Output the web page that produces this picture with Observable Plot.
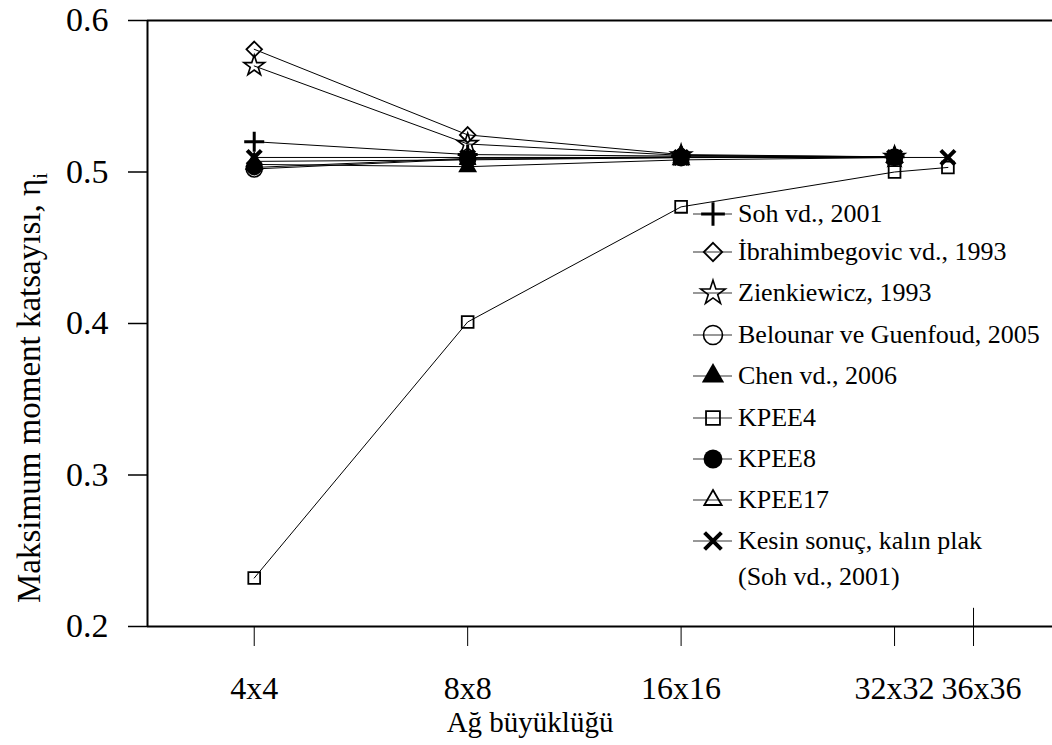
<!DOCTYPE html>
<html>
<head>
<meta charset="utf-8">
<script src="https://cdn.jsdelivr.net/npm/d3@7"></script>
<script src="https://cdn.jsdelivr.net/npm/@observablehq/plot@0.6"></script>
<style>
  body { margin: 0; background: #fff; }
  #chart svg text { font-family: "Liberation Serif", "Times New Roman", serif !important; }
</style>
</head>
<body>
<div id="chart"></div>
<script>
// Mesh sizes along the x axis
const meshLabels = ["4x4", "8x8", "16x16", "32x32", "36x36"];
const meshPos = [1, 2, 3, 4, 4.25];     // positions of the results for each mesh
const meshTickPos = [1, 2, 3, 4, 4.37]; // positions of the axis ticks
const yTicks = [0.2, 0.3, 0.4, 0.5, 0.6];

// Maximum moment coefficient for each method
const soh2001      = [0.520, 0.5115, 0.5105, 0.5100];
const ibrahim1993  = [0.581, 0.5245, 0.5115, 0.5100];
const zienk1993    = [0.570, 0.5185, 0.5110, 0.5100];
const belounar2005 = [0.502, 0.5085, 0.5095, 0.5098];
const chen2006     = [0.505, 0.5035, 0.5080, 0.5095];
const kpee4        = [0.232, 0.401, 0.477, 0.500, 0.503];
const kpee8        = [0.503, 0.5090, 0.5100, 0.5100];
const kpee17       = [0.507, 0.5080, 0.5095, 0.5098];
const exactThick   = [0.5096, 0.5096, 0.5096, 0.5096, 0.5096];

const seriesNames = [
  "Soh vd., 2001",
  "İbrahimbegovic vd., 1993",
  "Zienkiewicz, 1993",
  "Belounar ve Guenfoud, 2005",
  "Chen vd., 2006",
  "KPEE4",
  "KPEE8",
  "KPEE17",
  "Kesin sonuç, kalın plak"
];
const seriesValues = [soh2001, ibrahim1993, zienk1993, belounar2005, chen2006, kpee4, kpee8, kpee17, exactThick];

// Marker style of each series
const styles = [
  {symbol: "plus",     r: 6.5, fill: "none",  stroke: "black", sw: 3},
  {symbol: "diamond2", r: 7,   fill: "none",  stroke: "black", sw: 1.8},
  {symbol: "star",     r: 6.5, fill: "none",  stroke: "black", sw: 1.6},
  {symbol: "circle",   r: 8,   fill: "none",  stroke: "black", sw: 1.6},
  {symbol: "triangle", r: 7,   fill: "black", stroke: "none",  sw: 0},
  {symbol: "square2",  r: 7.5, fill: "none",  stroke: "black", sw: 1.8},
  {symbol: "circle",   r: 8,   fill: "black", stroke: "none",  sw: 0},
  {symbol: "triangle2",r: 7,   fill: "none",  stroke: "black", sw: 1.8},
  {symbol: "times",    r: 6.5, fill: "none",  stroke: "black", sw: 4}
];

const rows = seriesValues.map((vals, s) =>
  vals.map((v, i) => ({series: seriesNames[s], s, x: meshPos[i], y: v}))
);

const tickLabel = new Map(meshTickPos.map((p, i) => [p, meshLabels[i]]));
const lastTick = meshTickPos[meshTickPos.length - 1];

const marks = [
  Plot.ruleY([0.6], {stroke: "black", strokeWidth: 2}),
  Plot.ruleY([0.2], {stroke: "black", strokeWidth: 2}),
  Plot.ruleX([0.5], {stroke: "black", strokeWidth: 2}),
  Plot.axisY({ticks: yTicks, tickFormat: d => d.toFixed(1), tickSize: 19, tickPadding: 20,
              fontSize: 34, label: null, strokeWidth: 1.5}),
  // ticks for every mesh; the last label is drawn separately
  Plot.axisX({ticks: meshTickPos, tickFormat: d => d === lastTick ? "" : tickLabel.get(d),
              tickSize: 20, tickPadding: 30, fontSize: 32, label: null, strokeWidth: 1}),
  // the 36x36 label sits a little right of its tick so that it clears 32x32
  Plot.axisX({ticks: [lastTick], tickFormat: d => tickLabel.get(d), tickSize: 0, tickPadding: 50,
              fontSize: 32, label: null, dx: 8}),
  // the 36x36 tick also rises above the axis line
  Plot.ruleX([lastTick], {y1: 0.2, y2: 0.212, stroke: "black", strokeWidth: 1})
];

rows.forEach(r => marks.push(Plot.line(r, {x: "x", y: "y", stroke: "black", strokeWidth: 1})));
rows.forEach((r, s) => {
  const st = styles[s];
  marks.push(Plot.dot(r, {x: "x", y: "y", symbol: () => st.symbol, r: st.r,
                          fill: st.fill, stroke: st.stroke, strokeWidth: st.sw}));
});

const chart = Plot.plot({
  width: 1052,
  height: 745,
  marginLeft: 147,
  marginRight: 0,
  marginTop: 20,
  marginBottom: 119,
  style: "font-family: 'Liberation Serif', serif; color: black; background: white; overflow: visible;",
  x: {domain: [0.5, 4.74]},
  y: {domain: [0.2, 0.6]},
  symbol: {type: "identity"},
  marks
});

document.getElementById("chart").appendChild(chart);

const svg = d3.select(chart);

// Axis titles
svg.append("text")
  .attr("x", 530).attr("y", 732)
  .attr("text-anchor", "middle")
  .attr("font-size", 29)
  .attr("fill", "black")
  .text("Ağ büyüklüğü");

const yTitle = svg.append("text")
  .attr("transform", "translate(40,388) rotate(-90)")
  .attr("text-anchor", "middle")
  .attr("font-size", 33)
  .attr("fill", "black");
yTitle.append("tspan").text("Maksimum moment katsayısı, η");
yTitle.append("tspan").attr("font-size", 21).attr("dy", 7).text("i");

// Legend
const symbolTypes = {
  plus: d3.symbolPlus, diamond2: d3.symbolDiamond2, star: d3.symbolStar,
  circle: d3.symbolCircle, triangle: d3.symbolTriangle, square2: d3.symbolSquare2,
  triangle2: d3.symbolTriangle2, times: d3.symbolTimes
};
const legendRowY = [214, 252, 293, 335, 376, 418, 459, 500, 541];
const legend = svg.append("g").attr("font-size", 26).attr("text-anchor", "start");
seriesNames.forEach((name, i) => {
  const st = styles[i];
  const g = legend.append("g").attr("transform", `translate(0,${legendRowY[i]})`);
  g.append("line").attr("x1", 693).attr("x2", 732).attr("y1", 0).attr("y2", 0)
    .attr("stroke", "#333").attr("stroke-width", 1.2);
  g.append("path")
    .attr("transform", "translate(713,0)")
    .attr("d", d3.symbol(symbolTypes[st.symbol], Math.PI * st.r * st.r * 1.4)())
    .attr("fill", st.fill).attr("stroke", st.stroke).attr("stroke-width", st.sw);
  g.append("text").attr("x", 738).attr("y", 0).attr("dy", "0.3em").attr("fill", "black").text(name);
});
legend.append("text").attr("x", 738).attr("y", 577).attr("dy", "0.3em").attr("fill", "black").text("(Soh vd., 2001)");
</script>
</body>
</html>
